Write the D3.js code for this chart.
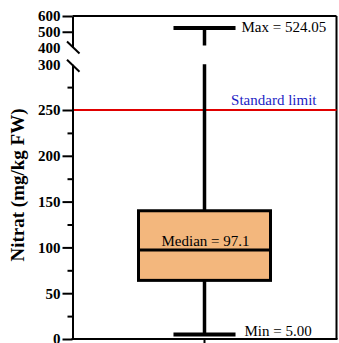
<!DOCTYPE html>
<html><head><meta charset="utf-8">
<script src="https://cdn.jsdelivr.net/npm/d3@7/dist/d3.min.js"></script>
<style>body{margin:0;background:#fff}svg{display:block}svg text{font-family:"Liberation Serif","Times New Roman",Times,serif}</style>
</head><body><svg id="c" width="339" height="343"></svg>
<script>
const categories = ["Nitrat"];
const minVals = [5.00];
const q1Vals = [64];
const medianVals = [97.1];
const q3Vals = [140];
const maxVals = [524.05];
const standardLimit = [250];
const lowerTicks = [0, 50, 100, 150, 200, 250, 300];
const lowerMinorTicks = [25, 75, 125, 175, 225, 275];
const upperTicks = [400, 500, 600];
const breakTicks = [300, 400];
const maxLabels = ["Max = 524.05"];
const minLabels = ["Min = 5.00"];
const medianLabels = ["Median = 97.1"];
const limitLabel = "Standard limit";
const yTitle = "Nitrat (mg/kg FW)";

const svg = d3.select("#c");
const L = 72.5, R = 336.5;
const serif = '"Liberation Serif","Times New Roman",Times,serif';

const yLow = d3.scaleLinear().domain([0, 300]).range([339, 64.2]);
const yUp = d3.scaleLinear().domain([400, 600]).range([47.5, 16]);
const x = d3.scaleBand().domain(categories).range([L, R]).paddingInner(0.5).paddingOuter(0.25);
const yv = v => v >= 400 ? yUp(v) : yLow(v);

// frame (top, right, bottom)
svg.append("line").attr("x1", L).attr("x2", R).attr("y1", yUp(600)).attr("y2", yUp(600)).attr("stroke", "#000").attr("stroke-width", 2);
svg.append("line").attr("x1", R).attr("x2", R).attr("y1", yUp(600)).attr("y2", yLow(0)).attr("stroke", "#000").attr("stroke-width", 2);
svg.append("line").attr("x1", L - 1).attr("x2", R + 1).attr("y1", yLow(0)).attr("y2", yLow(0)).attr("stroke", "#000").attr("stroke-width", 2);

// standard limit
svg.append("line").attr("x1", L).attr("x2", R).attr("y1", yLow(standardLimit[0])).attr("y2", yLow(standardLimit[0]))
  .attr("stroke", "#e00000").attr("stroke-width", 2);
svg.append("text").attr("x", R - 20).attr("y", yLow(standardLimit[0]) - 5).attr("text-anchor", "end")
  .style("font-family", serif).attr("font-size", 15).attr("fill", "#1c1cc4").text(limitLabel);

// axes
function styleAxis(g) {
  g.attr("font-family", null);
  g.select(".domain").attr("stroke-width", 2);
  g.selectAll(".tick line").attr("stroke-width", 2);
  g.selectAll(".tick text").style("font-family", serif).attr("font-weight", "bold").attr("font-size", 15).attr("fill", "#000");
  g.selectAll(".tick").filter(d => breakTicks.includes(d)).select("line").remove();
}
const gLow = svg.append("g").attr("transform", `translate(${L},0)`)
  .call(d3.axisLeft(yLow).tickValues(lowerTicks).tickSize(10).tickPadding(2).tickSizeOuter(0).tickFormat(d3.format("d")));
styleAxis(gLow);
const gLowMinor = svg.append("g").attr("transform", `translate(${L},0)`)
  .call(d3.axisLeft(yLow).tickValues(lowerMinorTicks).tickSize(5).tickFormat(""));
gLowMinor.select(".domain").remove();
gLowMinor.selectAll(".tick line").attr("stroke-width", 2);
const gUp = svg.append("g").attr("transform", `translate(${L},0)`)
  .call(d3.axisLeft(yUp).tickValues(upperTicks).tickSize(10).tickPadding(2).tickSizeOuter(0).tickFormat(d3.format("d")));
styleAxis(gUp);

// break marks
breakTicks.forEach(v => {
  const cy = v >= 400 ? yUp(v) : yLow(v) + 1.5;
  svg.append("line").attr("x1", L - 5.5).attr("x2", L + 7).attr("y1", cy - 6).attr("y2", cy + 6)
    .attr("stroke", "#000").attr("stroke-width", 2);
});

// x tick
svg.append("g").attr("transform", `translate(0,${yLow(0)})`)
  .call(d3.axisBottom(x).tickSize(5).tickFormat(""))
  .call(g => { g.select(".domain").remove(); g.selectAll(".tick line").attr("stroke-width", 2); });

// boxplot
categories.forEach((c, i) => {
  const cx = x(c) + x.bandwidth() / 2;
  const capW = x.bandwidth() * 0.47;
  const g = svg.append("g");
  g.append("line").attr("x1", cx).attr("x2", cx).attr("y1", yLow(q3Vals[i])).attr("y2", yLow(300))
    .attr("stroke", "#000").attr("stroke-width", 3.5);
  g.append("line").attr("x1", cx).attr("x2", cx).attr("y1", yUp(maxVals[i])).attr("y2", yUp(400) - 2)
    .attr("stroke", "#000").attr("stroke-width", 3.5);
  g.append("line").attr("x1", cx).attr("x2", cx).attr("y1", yLow(q1Vals[i])).attr("y2", yLow(minVals[i]))
    .attr("stroke", "#000").attr("stroke-width", 3.5);
  [maxVals[i], minVals[i]].forEach(v => {
    g.append("line").attr("x1", cx - capW / 2).attr("x2", cx + capW / 2).attr("y1", yv(v)).attr("y2", yv(v))
      .attr("stroke", "#000").attr("stroke-width", 4);
  });
  g.append("rect").attr("x", x(c)).attr("width", x.bandwidth())
    .attr("y", yLow(q3Vals[i])).attr("height", yLow(q1Vals[i]) - yLow(q3Vals[i]))
    .attr("fill", "#f3b77d").attr("stroke", "#000").attr("stroke-width", 3);
  g.append("line").attr("x1", x(c)).attr("x2", x(c) + x.bandwidth()).attr("y1", yLow(medianVals[i])).attr("y2", yLow(medianVals[i]))
    .attr("stroke", "#000").attr("stroke-width", 3);
  g.append("text").attr("x", cx + 1).attr("y", yLow(medianVals[i]) - 4.5).attr("text-anchor", "middle")
    .style("font-family", serif).attr("font-size", 15).text(medianLabels[i]);
  g.append("text").attr("x", cx + capW / 2 + 6).attr("y", yUp(maxVals[i]) + 4.5)
    .style("font-family", serif).attr("font-size", 15).text(maxLabels[i]);
  g.append("text").attr("x", cx + capW / 2 + 9).attr("y", yLow(minVals[i]) + 2)
    .style("font-family", serif).attr("font-size", 15).text(minLabels[i]);
});

// y title
svg.append("text").attr("transform", "translate(24,185) rotate(-90)").attr("text-anchor", "middle")
  .style("font-family", serif).attr("font-weight", "bold").attr("font-size", 19).text(yTitle);
</script></body></html>
